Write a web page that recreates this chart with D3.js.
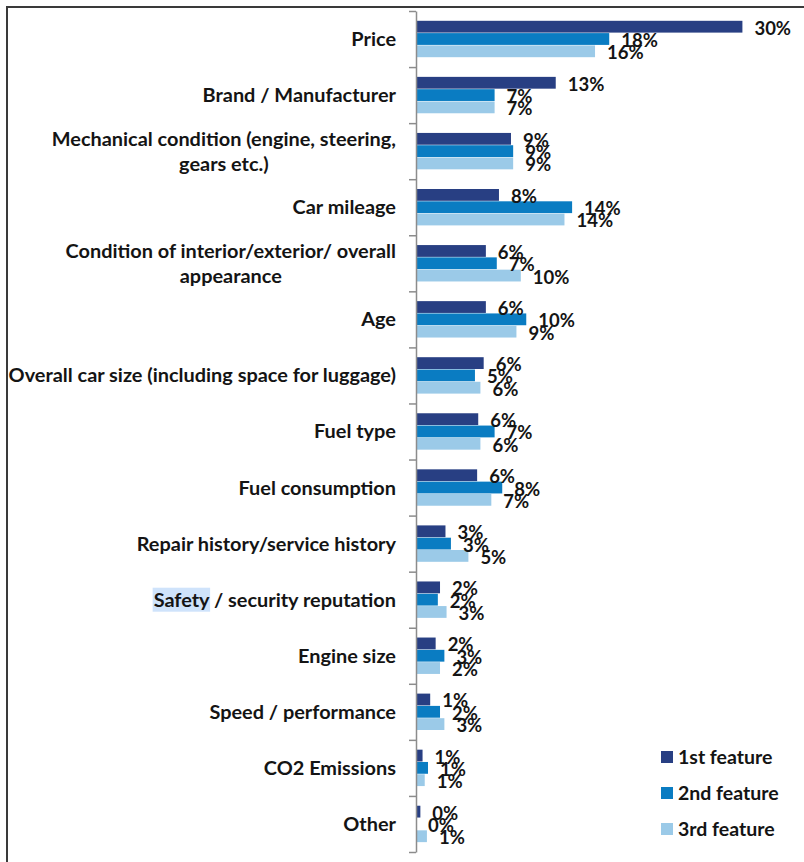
<!DOCTYPE html>
<html>
<head>
<meta charset="utf-8">
<script src="https://cdn.jsdelivr.net/npm/d3@7"></script>
<style>
  body { margin: 0; background: #fff; }
  svg text { font-family: Lato, "Noto Sans", sans-serif; font-weight: bold; fill: #141414; }
</style>
</head>
<body>
<div id="chart"></div>
<script>
// categories, top to bottom (display lines for wrapped labels)
var categories = [
  ["Price"],
  ["Brand / Manufacturer"],
  ["Mechanical condition (engine, steering,", "gears etc.)"],
  ["Car mileage"],
  ["Condition of interior/exterior/ overall", "appearance"],
  ["Age"],
  ["Overall car size (including space for luggage)"],
  ["Fuel type"],
  ["Fuel consumption"],
  ["Repair history/service history"],
  ["Safety / security reputation"],
  ["Engine size"],
  ["Speed / performance"],
  ["CO2 Emissions"],
  ["Other"]
];
var series = ["1st feature", "2nd feature", "3rd feature"];
var colors = ["#283f83", "#0a7cc2", "#9bcae8"];

// percentages
var first  = [29.9, 12.8, 8.7, 7.6, 6.4, 6.4, 6.2, 5.7, 5.6, 2.7, 2.2, 1.8, 1.3, 0.6, 0.4];
var second = [17.7, 7.2, 8.9, 14.3, 7.4, 10.1, 5.4, 7.2, 7.9, 3.2, 2.0, 2.6, 2.2, 1.1, 0.0];
var third  = [16.4, 7.2, 8.9, 13.6, 9.6, 9.2, 5.9, 5.9, 6.9, 4.8, 2.8, 2.2, 2.6, 0.8, 1.0];
var values = [first, second, third];

var W = 804, H = 862;
var axisX = 416, plotTop = 11, plotBottom = 852;

var svg = d3.select("#chart").append("svg")
    .attr("width", W)
    .attr("height", H);

// outer frame (top and left edges visible)
svg.append("path")
    .attr("d", "M7,862 V7 H804")
    .attr("fill", "none")
    .attr("stroke", "#3a3a3a")
    .attr("stroke-width", 2);

var x = d3.scaleLinear().domain([0, 30]).range([0, 327.5]);

var yIdx = d3.scaleLinear().domain([0, categories.length]).range([plotTop, plotBottom]);
var bandH = yIdx(1) - yIdx(0);

var sub = d3.scaleBand().domain(d3.range(series.length)).range([9.8, 46.2]).paddingInner(0.04);

var plot = svg.append("g").attr("transform", "translate(" + axisX + ",0)");

// bars
values.forEach(function(vals, s) {
    plot.selectAll(".bar-" + s)
        .data(vals)
        .enter().append("rect")
        .attr("class", "bar-" + s)
        .attr("x", 0)
        .attr("y", function(d, i) { return yIdx(i) + sub(s); })
        .attr("width", function(d) { return x(d); })
        .attr("height", sub.bandwidth())
        .attr("fill", colors[s]);
});

// value labels
values.forEach(function(vals, s) {
    plot.selectAll(".lab-" + s)
        .data(vals)
        .enter().append("text")
        .attr("class", "lab-" + s)
        .attr("x", function(d) { return x(d) + 12; })
        .attr("y", function(d, i) { return yIdx(i) + sub(s) + sub.bandwidth() / 2 + 1.5; })
        .attr("dy", "0.35em")
        .style("font-size", "18.5px")
        .text(function(d) { return Math.round(d) + "%"; });
});

// axis with ticks at band boundaries
var yAxis = d3.axisLeft(yIdx)
    .tickValues(d3.range(categories.length + 1))
    .tickFormat("")
    .tickSize(7)
    .tickSizeOuter(0);

var axG = svg.append("g")
    .attr("transform", "translate(" + axisX + ",0)")
    .call(yAxis);
axG.select(".domain").attr("stroke", "#8c8c8c").attr("stroke-width", 1.5);
axG.selectAll(".tick line").attr("stroke", "#8c8c8c").attr("stroke-width", 1.5);

// category labels
var labelRight = 396, lineH = 25;
var catG = svg.append("g");
categories.forEach(function(lines, i) {
    var cy = yIdx(i) + bandH / 2;
    var t = catG.append("text")
        .style("font-size", "19.9px")
        .attr("text-anchor", "middle");
    lines.forEach(function(l, k) {
        t.append("tspan")
            .attr("y", cy + (k - (lines.length - 1) / 2) * lineH)
            .attr("dy", "0.35em")
            .text(l);
    });
    var maxW = 0;
    t.selectAll("tspan").each(function() { maxW = Math.max(maxW, this.getComputedTextLength()); });
    t.selectAll("tspan").attr("x", labelRight - maxW / 2);

    // the word "Safety" carries a selection highlight in the original
    if (lines[0].indexOf("Safety") === 0) {
        var node = t.select("tspan").node();
        var start = node.getStartPositionOfChar(0).x;
        var wS = node.getSubStringLength(0, 6);
        catG.insert("rect", "text")
            .attr("x", start - 1)
            .attr("y", cy - 12)
            .attr("width", wS + 2)
            .attr("height", 24)
            .attr("fill", "#cfe3fb");
    }
});

// legend
var leg = svg.append("g").attr("transform", "translate(661,751)");
series.forEach(function(name, s) {
    var g = leg.append("g").attr("transform", "translate(0," + s * 36 + ")");
    g.append("rect").attr("width", 12).attr("height", 12).attr("fill", colors[s]);
    g.append("text")
        .attr("x", 17)
        .attr("y", 6)
        .attr("dy", "0.35em")
        .style("font-size", "19.5px")
        .text(name);
});
</script>
</body>
</html>
